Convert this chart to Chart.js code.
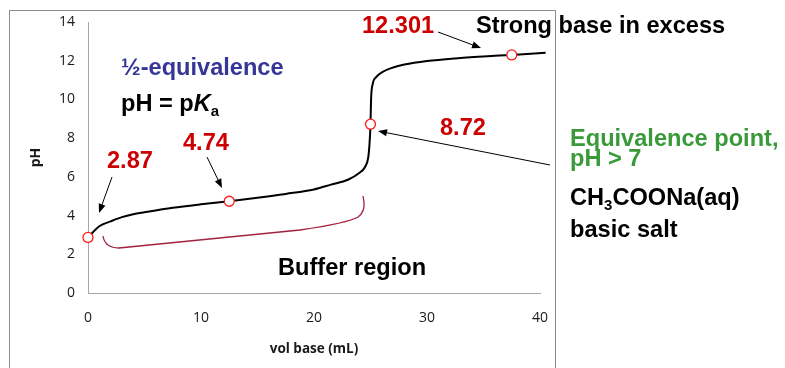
<!DOCTYPE html>
<html>
<head>
<meta charset="utf-8">
<script src="https://cdn.jsdelivr.net/npm/chart.js@4.4.1/dist/chart.umd.min.js"></script>
<style>
  html, body { margin: 0; padding: 0; background: #fff; }
  #wrap { position: relative; width: 785px; height: 368px; }
</style>
</head>
<body>
<div id="wrap"><canvas id="chart"></canvas></div>
<script>
// titration curve
const volumes  = [0, 1, 2, 3, 4, 5, 7.5, 10, 12.5, 15, 17.5, 20, 21.5, 23, 24, 24.5, 24.8, 24.9, 25, 25.05, 25.2, 25.5, 26, 27, 28, 30, 32.5, 35, 37.5, 40.5];
const phValues = [2.87, 3.45, 3.7, 3.92, 4.07, 4.17, 4.4, 4.58, 4.74, 4.92, 5.12, 5.35, 5.6, 5.85, 6.2, 6.5, 7.0, 7.6, 8.72, 10.0, 10.8, 11.15, 11.4, 11.65, 11.8, 11.98, 12.12, 12.22, 12.301, 12.41];

// marked points
const markerVolumes = [0, 12.5, 25, 37.5];
const markerPH = [2.87, 4.74, 8.72, 12.301];

const xTicks = [0, 10, 20, 30, 40];
const yTicks = [0, 2, 4, 6, 8, 10, 12, 14];

Chart.defaults.font.family = "'Open Sans', sans-serif";
Chart.defaults.color = '#1a1a1a';

const FONT_SIZE = 23.6;
const boldFont = (s) => 'bold ' + s + 'px "Liberation Sans", Arial, sans-serif';

function arrow(ctx, x1, y1, x2, y2) {
    const a = Math.atan2(y2 - y1, x2 - x1);
    const len = 9, half = 3.5;
    ctx.beginPath();
    ctx.moveTo(x1, y1);
    ctx.lineTo(x2 - Math.cos(a) * len * 0.8, y2 - Math.sin(a) * len * 0.8);
    ctx.stroke();
    ctx.beginPath();
    ctx.moveTo(x2, y2);
    ctx.lineTo(x2 - Math.cos(a) * len - Math.sin(a) * half, y2 - Math.sin(a) * len + Math.cos(a) * half);
    ctx.lineTo(x2 - Math.cos(a) * len + Math.sin(a) * half, y2 - Math.sin(a) * len - Math.cos(a) * half);
    ctx.closePath();
    ctx.fill();
}

// text pieces: [text, style] where style can be 'sub' or 'italic'
function richText(ctx, x, y, parts, size) {
    parts.forEach(([txt, kind]) => {
        let dy = 0;
        if (kind === 'sub') {
            ctx.font = boldFont(Math.round(size * 0.65));
            dy = 5;
        } else if (kind === 'italic') {
            ctx.font = 'italic ' + boldFont(size);
        } else {
            ctx.font = boldFont(size);
        }
        ctx.fillText(txt, x, y + dy);
        x += ctx.measureText(txt).width;
    });
}

const annotations = {
    id: 'annotations',
    afterDraw(chart) {
        const ctx = chart.ctx;
        ctx.save();

        // outer frame
        ctx.strokeStyle = '#8c8c8c';
        ctx.lineWidth = 1;
        ctx.strokeRect(9.5, 10.5, 546, 400);

        // buffer bracket
        ctx.strokeStyle = '#a3203f';
        ctx.lineWidth = 1.3;
        ctx.beginPath();
        ctx.moveTo(103, 236);
        ctx.quadraticCurveTo(105, 248, 119, 248);
        ctx.lineTo(300, 230);
        ctx.quadraticCurveTo(348, 223, 358, 217);
        ctx.quadraticCurveTo(365, 212, 364, 202);
        ctx.lineTo(363, 196);
        ctx.stroke();

        // arrows
        ctx.strokeStyle = '#000';
        ctx.fillStyle = '#000';
        ctx.lineWidth = 1;
        arrow(ctx, 112, 177, 99, 213);
        arrow(ctx, 207, 157, 222, 188);
        arrow(ctx, 438, 32, 481, 48);
        arrow(ctx, 550, 165, 378, 131);

        ctx.textAlign = 'left';
        ctx.textBaseline = 'alphabetic';

        // red values
        ctx.fillStyle = '#cc0000';
        ctx.font = boldFont(FONT_SIZE);
        ctx.fillText('2.87', 107, 168);
        ctx.fillText('4.74', 183, 150);
        ctx.fillText('8.72', 440, 135);
        ctx.fillText('12.301', 362, 33);

        // half-equivalence
        ctx.fillStyle = '#363698';
        ctx.fillText('\u00bd-equivalence', 121, 75);
        ctx.fillStyle = '#000';
        richText(ctx, 121, 111, [['pH = p'], ['K', 'italic'], ['a', 'sub']], FONT_SIZE);

        ctx.font = boldFont(FONT_SIZE);
        ctx.fillText('Strong base in excess', 476, 33);
        ctx.fillText('Buffer region', 278, 275);

        ctx.fillStyle = '#3a9a3a';
        ctx.fillText('Equivalence point,', 570, 146);
        ctx.fillText('pH > 7', 570, 166);

        ctx.fillStyle = '#000';
        richText(ctx, 570, 205, [['CH'], ['3', 'sub'], ['COONa(aq)']], FONT_SIZE);
        ctx.font = boldFont(FONT_SIZE);
        ctx.fillText('basic salt', 570, 237);

        ctx.restore();
    }
};

const chart = document.querySelector('#chart').getContext('2d');

new Chart(chart, {
    type: 'line',
    data: {
        datasets: [
            {
                label: 'markers',
                data: markerVolumes.map((v, i) => ({ x: v, y: markerPH[i] })),
                showLine: false,
                pointRadius: 5,
                pointBackgroundColor: '#fff',
                pointBorderColor: '#ff1a1a',
                pointBorderWidth: 1.3,
                clip: false
            },
            {
                label: 'pH',
                data: volumes.map((v, i) => ({ x: v, y: phValues[i] })),
                borderColor: '#000',
                borderWidth: 2,
                pointRadius: 0,
                cubicInterpolationMode: 'monotone',
                clip: false
            }
        ]
    },
    options: {
        responsive: true,
        maintainAspectRatio: false,
        animation: false,
        layout: { padding: { top: 22, right: 245, left: 0, bottom: 0 } },
        plugins: {
            legend: { display: false },
            tooltip: { enabled: false }
        },
        scales: {
            x: {
                type: 'linear',
                min: 0,
                max: 40,
                afterBuildTicks: (axis) => { axis.ticks = xTicks.map(v => ({ value: v })); },
                afterFit: (axis) => { axis.height = 75; },
                grid: { display: false, drawTicks: false },
                border: { display: true, color: '#a6a6a6', width: 1 },
                ticks: { padding: 17, font: { size: 14 } },
                title: { display: true, text: 'vol base (mL)', font: { size: 13.5, weight: 'bold' }, padding: { top: 0, bottom: 11 } }
            },
            y: {
                min: 0,
                max: 14,
                afterBuildTicks: (axis) => { axis.ticks = yTicks.map(v => ({ value: v })); },
                afterFit: (axis) => { axis.width = 88; },
                grid: { display: false, drawTicks: false },
                border: { display: true, color: '#a6a6a6', width: 1 },
                ticks: { padding: 13, font: { size: 14 } },
                title: { display: true, text: 'pH', font: { size: 14, weight: 'bold' }, padding: { top: 28, bottom: 0 } }
            }
        }
    },
    plugins: [annotations]
});
</script>
</body>
</html>
